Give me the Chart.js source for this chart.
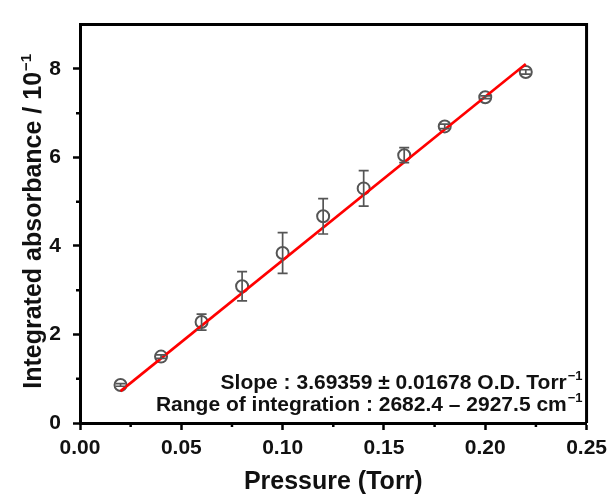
<!DOCTYPE html>
<html>
<head>
<meta charset="utf-8">
<script src="https://cdn.jsdelivr.net/npm/chart.js@4.4.1/dist/chart.umd.min.js"></script>
<style>
  html, body { margin: 0; padding: 0; background: #fff; }
  #wrap { width: 613px; height: 498px; }
</style>
</head>
<body>
<div id="wrap"><canvas id="chart"></canvas></div>
<script>
// measured points (pressure in Torr, absorbance in 10^-1)
const pressure = [0.02, 0.04, 0.06, 0.08, 0.10, 0.12, 0.14, 0.16, 0.18, 0.20, 0.22];
const absorbance = [0.86, 1.50, 2.28, 3.09, 3.84, 4.67, 5.30, 6.05, 6.70, 7.36, 7.93];
const errors = [0.03, 0.04, 0.18, 0.33, 0.46, 0.40, 0.40, 0.17, 0.05, 0.03, 0.05];

// linear fit end points
const fitX = [0.02, 0.22];
const fitY = [0.72, 8.11];

const xTicks = [0, 0.05, 0.10, 0.15, 0.20, 0.25];
const xMinor = [0.025, 0.075, 0.125, 0.175, 0.225];
const yTicks = [0, 2, 4, 6, 8];
const yMinor = [1, 3, 5, 7];

const xTitle = "Pressure (Torr)";
const yTitle = "Integrated absorbance / 10";
const slopeText = "Slope : 3.69359 \u00b1 0.01678 O.D. Torr";
const rangeText = "Range of integration : 2682.4 \u2013 2927.5 cm";
const supText = "\u22121";

const FONT = "'Liberation Sans', Arial, sans-serif";

// draws text followed by a superscript
function textWithSup(ctx, main, sup, x, y, size, align) {
  ctx.font = "bold " + size + "px " + FONT;
  const w1 = ctx.measureText(main).width;
  ctx.font = "bold " + Math.round(size * 0.6) + "px " + FONT;
  const w2 = ctx.measureText(sup).width;
  let start = align === "center" ? x - (w1 + w2) / 2 : x - w1 - w2;
  ctx.textAlign = "left";
  ctx.textBaseline = "alphabetic";
  ctx.font = "bold " + size + "px " + FONT;
  ctx.fillText(main, start, y);
  ctx.font = "bold " + Math.round(size * 0.6) + "px " + FONT;
  ctx.fillText(sup, start + w1 + 1, y - size * 0.42);
}

const extras = {
  id: "extras",
  afterDatasetsDraw(chart) {
    const ctx = chart.ctx;
    const xs = chart.scales.x, ys = chart.scales.y;
    // error bars
    ctx.save();
    ctx.strokeStyle = "#555";
    ctx.lineWidth = 1.7;
    pressure.forEach((p, i) => {
      const px = xs.getPixelForValue(p);
      const top = ys.getPixelForValue(absorbance[i] + errors[i]);
      const bot = ys.getPixelForValue(absorbance[i] - errors[i]);
      ctx.beginPath();
      ctx.moveTo(px, top); ctx.lineTo(px, bot);
      ctx.moveTo(px - 5, top); ctx.lineTo(px + 5, top);
      ctx.moveTo(px - 5, bot); ctx.lineTo(px + 5, bot);
      ctx.stroke();
    });
    ctx.restore();
  },
  afterDraw(chart) {
    const ctx = chart.ctx;
    const a = chart.chartArea;
    const xs = chart.scales.x, ys = chart.scales.y;
    ctx.save();
    // top and right frame
    ctx.strokeStyle = "#000";
    ctx.lineWidth = 3;
    ctx.beginPath();
    ctx.moveTo(a.left, a.top); ctx.lineTo(a.right, a.top); ctx.lineTo(a.right, a.bottom);
    ctx.stroke();
    // minor ticks
    ctx.lineWidth = 2.5;
    ctx.beginPath();
    xMinor.forEach(v => {
      const px = xs.getPixelForValue(v);
      ctx.moveTo(px, a.bottom); ctx.lineTo(px, a.bottom + 4);
    });
    yMinor.forEach(v => {
      const py = ys.getPixelForValue(v);
      ctx.moveTo(a.left, py); ctx.lineTo(a.left - 4, py);
    });
    ctx.stroke();

    ctx.fillStyle = "#111";
    // x title
    ctx.font = "bold 25px " + FONT;
    ctx.textAlign = "center";
    ctx.textBaseline = "middle";
    ctx.fillText(xTitle, (a.left + a.right) / 2, 482);
    // y title
    ctx.save();
    ctx.translate(32, (a.top + a.bottom) / 2 - 2);
    ctx.rotate(-Math.PI / 2);
    textWithSup(ctx, yTitle, supText, 0, 9, 25, "center");
    ctx.restore();
    // annotation
    textWithSup(ctx, slopeText, supText, a.right - 5, 389, 21, "right");
    textWithSup(ctx, rangeText, supText, a.right - 5, 411, 21, "right");
    ctx.restore();
  }
};

const tickFont = { family: FONT, size: 21, weight: "bold" };

new Chart(document.getElementById("chart"), {
  type: "scatter",
  data: {
    datasets: [
      {
        label: "data",
        data: pressure.map((p, i) => ({ x: p, y: absorbance[i] })),
        pointStyle: "circle",
        pointRadius: 6,
        pointBorderWidth: 2,
        pointBorderColor: "#555",
        pointBackgroundColor: "rgba(255,255,255,0)",
        showLine: false,
        order: 2
      },
      {
        label: "fit",
        type: "line",
        data: fitX.map((x, i) => ({ x: x, y: fitY[i] })),
        borderColor: "#ff0000",
        borderWidth: 2.6,
        pointRadius: 0,
        fill: false,
        order: 1
      }
    ]
  },
  options: {
    responsive: true,
    maintainAspectRatio: false,
    animation: false,
    layout: { padding: { left: 0, top: 15, right: 25, bottom: 0 } },
    plugins: { legend: { display: false }, tooltip: { enabled: false } },
    scales: {
      x: {
        type: "linear",
        min: 0,
        max: 0.25,
        afterBuildTicks: s => { s.ticks = xTicks.map(v => ({ value: v })); },
        afterFit: s => { s.height = 75; },
        ticks: {
          color: "#111",
          font: tickFont,
          padding: 6,
          maxRotation: 0,
          callback: v => v.toFixed(2)
        },
        grid: { display: true, drawOnChartArea: false, drawTicks: true, tickLength: 7, tickWidth: 2.5, tickColor: "#000" },
        border: { display: true, color: "#000", width: 3 }
      },
      y: {
        min: 0,
        max: 9,
        afterBuildTicks: s => { s.ticks = yTicks.map(v => ({ value: v })); },
        afterFit: s => { s.width = 80; },
        ticks: {
          color: "#111",
          font: tickFont,
          padding: 12,
          callback: v => String(v)
        },
        grid: { display: true, drawOnChartArea: false, drawTicks: true, tickLength: 7, tickWidth: 2.5, tickColor: "#000" },
        border: { display: true, color: "#000", width: 3 }
      }
    }
  },
  plugins: [extras]
});
</script>
</body>
</html>
